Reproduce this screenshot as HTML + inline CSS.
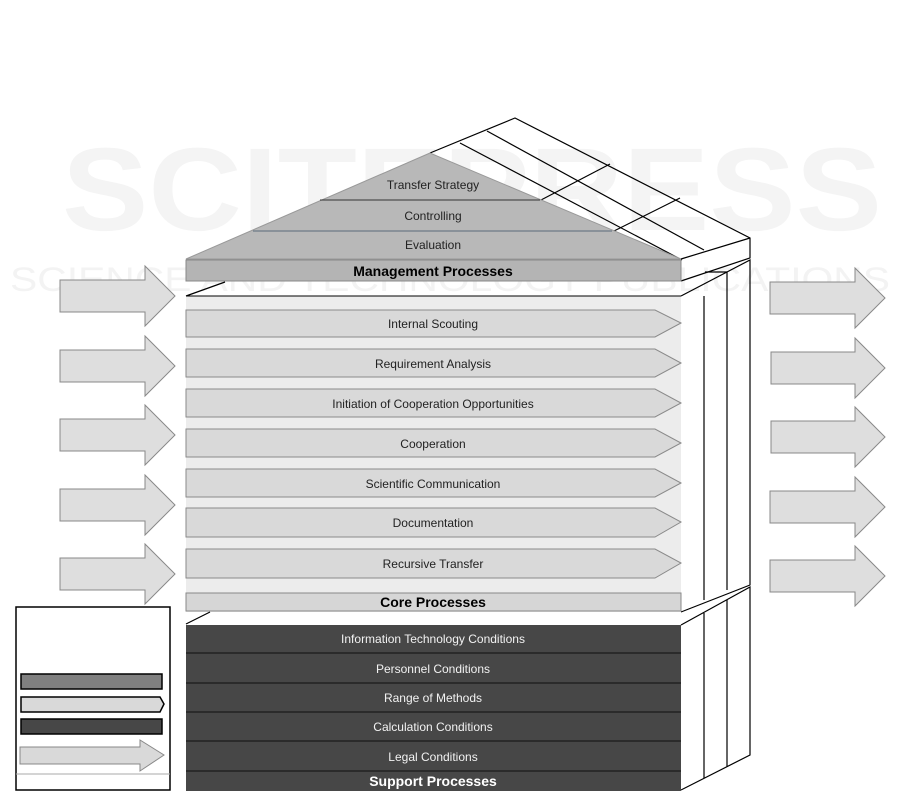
<!DOCTYPE html>
<html><head><meta charset="utf-8"><style>
body{margin:0;background:#fff}
svg{display:block}
text{font-family:"Liberation Sans",sans-serif}
</style></head><body>
<svg width="901" height="793" viewBox="0 0 901 793" xmlns="http://www.w3.org/2000/svg">
<!-- watermark -->
<text x="472" y="230" font-size="118" font-weight="bold" fill="#f4f4f4" text-anchor="middle" textLength="820" lengthAdjust="spacingAndGlyphs">SCITEPRESS</text>
<text x="450" y="291" font-size="34" fill="#f3f3f3" text-anchor="middle" textLength="880" lengthAdjust="spacingAndGlyphs">SCIENCE AND TECHNOLOGY PUBLICATIONS</text>

<!-- roof slab -->
<g fill="none" stroke="#000" stroke-width="1.2">
<polyline points="430,153 515,118 750,238 750,258 681,281"/>
<line x1="681" y1="259" x2="750" y2="238"/>
<line x1="487" y1="131" x2="704" y2="250"/>
<line x1="460" y1="143" x2="682" y2="260"/>
<line x1="541" y1="200" x2="610" y2="164"/>
<line x1="610" y1="233" x2="680" y2="198"/>
</g>
<!-- roof triangle -->
<polygon points="430,153 186,259 681,259" fill="#b8b8b8" stroke="#999" stroke-width="1"/>
<line x1="320" y1="200" x2="540" y2="200" stroke="#333" stroke-width="1"/>
<line x1="253" y1="231" x2="612" y2="231" stroke="#5a6a7a" stroke-width="1"/>
<text x="433" y="189" font-size="12" text-anchor="middle" fill="#222">Transfer Strategy</text>
<text x="433" y="220" font-size="12" text-anchor="middle" fill="#222">Controlling</text>
<text x="433" y="249" font-size="12" text-anchor="middle" fill="#222">Evaluation</text>
<rect x="186" y="260" width="495" height="21" fill="#b4b4b4" stroke="#888"/>
<text x="433" y="276" font-size="14" font-weight="bold" text-anchor="middle" fill="#000">Management Processes</text>

<!-- core block -->
<g fill="none" stroke="#000" stroke-width="1.2">
<line x1="186" y1="296" x2="225" y2="282"/>
<polyline points="681,296 750,260 750,585 681,612"/>
<line x1="704" y1="296" x2="704" y2="600"/>
<line x1="727" y1="272" x2="727" y2="590"/>
<line x1="705" y1="272" x2="727" y2="272"/>
</g>
<rect x="186" y="296" width="495" height="316" fill="#ececec"/>
<line x1="186" y1="296" x2="681" y2="296" stroke="#000" stroke-width="1"/>
<g fill="#d9d9d9" stroke="#8a8a8a" stroke-width="1">
<polygon points="186,310 655,310 681,323 655,337 186,337"/>
<polygon points="186,349 655,349 681,363 655,377 186,377"/>
<polygon points="186,389 655,389 681,403 655,417 186,417"/>
<polygon points="186,429 655,429 681,443 655,457 186,457"/>
<polygon points="186,469 655,469 681,483 655,497 186,497"/>
<polygon points="186,508 655,508 681,522 655,537 186,537"/>
<polygon points="186,549 655,549 681,563 655,578 186,578"/>
</g>
<g font-size="12" text-anchor="middle" fill="#222">
<text x="433" y="328">Internal Scouting</text>
<text x="433" y="368">Requirement Analysis</text>
<text x="433" y="408">Initiation of Cooperation Opportunities</text>
<text x="433" y="448">Cooperation</text>
<text x="433" y="488">Scientific Communication</text>
<text x="433" y="527">Documentation</text>
<text x="433" y="568">Recursive Transfer</text>
</g>
<rect x="186" y="593" width="495" height="18" fill="#d6d6d6" stroke="#888"/>
<text x="433" y="607" font-size="14" font-weight="bold" text-anchor="middle" fill="#000">Core Processes</text>

<!-- support block -->
<g fill="none" stroke="#000" stroke-width="1.2">
<line x1="186" y1="624" x2="210" y2="612"/>
<polyline points="681,625 750,587 750,755 681,790"/>
<line x1="704" y1="613" x2="704" y2="778"/>
<line x1="727" y1="600" x2="727" y2="767"/>
</g>
<rect x="186" y="625" width="495" height="166" fill="#474747"/>
<g stroke="#222" stroke-width="1.5">
<line x1="186" y1="653" x2="681" y2="653"/>
<line x1="186" y1="683" x2="681" y2="683"/>
<line x1="186" y1="712" x2="681" y2="712"/>
<line x1="186" y1="741" x2="681" y2="741"/>
<line x1="186" y1="771" x2="681" y2="771"/>
</g>
<g font-size="12" text-anchor="middle" fill="#f2f2f2">
<text x="433" y="643">Information Technology Conditions</text>
<text x="433" y="673">Personnel Conditions</text>
<text x="433" y="702">Range of Methods</text>
<text x="433" y="731">Calculation Conditions</text>
<text x="433" y="761">Legal Conditions</text>
</g>
<text x="433" y="786" font-size="14" font-weight="bold" text-anchor="middle" fill="#fff">Support Processes</text>

<!-- left arrows -->
<g fill="#dedede" stroke="#888" stroke-width="1">
<polygon points="60,280 145,280 145,266 175,296 145,326 145,312 60,312"/>
<polygon points="60,350 145,350 145,336 175,366 145,396 145,382 60,382"/>
<polygon points="60,419 145,419 145,405 175,435 145,465 145,451 60,451"/>
<polygon points="60,489 145,489 145,475 175,505 145,535 145,521 60,521"/>
<polygon points="60,558 145,558 145,544 175,574 145,604 145,590 60,590"/>
<!-- right arrows -->
<polygon points="770,282 855,282 855,268 885,298 855,328 855,314 770,314"/>
<polygon points="771,352 855,352 855,338 885,368 855,398 855,384 771,384"/>
<polygon points="771,421 855,421 855,407 885,437 855,467 855,453 771,453"/>
<polygon points="770,491 855,491 855,477 885,507 855,537 855,523 770,523"/>
<polygon points="770,560 855,560 855,546 885,576 855,606 855,592 770,592"/>
</g>

<!-- legend -->
<rect x="16" y="607" width="154" height="183" fill="#fff" stroke="#000" stroke-width="1.5"/>
<rect x="21" y="674" width="141" height="15" fill="#808080" stroke="#000" stroke-width="1.5"/>
<polygon points="21,697 160,697 164,704 160,712 21,712" fill="#d9d9d9" stroke="#000" stroke-width="1.5"/>
<rect x="21" y="719" width="141" height="15" fill="#474747" stroke="#000" stroke-width="1.5"/>
<polygon points="20,747 140,747 140,740 164,755 140,771 140,764 20,764" fill="#d9d9d9" stroke="#888" stroke-width="1"/>
<line x1="16" y1="774" x2="170" y2="774" stroke="#aaa" stroke-width="1"/>
</svg>
</body></html>
